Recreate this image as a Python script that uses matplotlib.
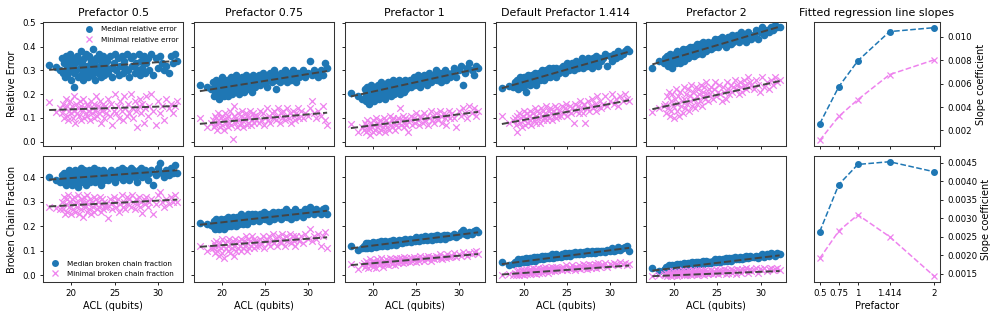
import numpy as np
import matplotlib
matplotlib.use("Agg")
import matplotlib.pyplot as plt
from matplotlib.lines import Line2D

# ---------------- data ----------------
acl = [17.5, 18.3, 18.8,
       19.0, 19.1, 19.2, 19.3, 19.4, 19.5, 19.6, 19.7, 19.8, 19.9,
       20.0, 20.1, 20.2, 20.3, 20.4, 20.5, 20.6, 20.7, 20.8, 20.9,
       21.0, 21.1, 21.2, 21.3, 21.4, 21.5, 21.6, 21.7, 21.8, 21.9,
       22.0, 22.1, 22.2, 22.3, 22.4, 22.5, 22.6, 22.7, 22.8, 22.9,
       23.0, 23.1, 23.2, 23.3, 23.4, 23.5, 23.6, 23.7, 23.8, 23.9, 24.0,
       24.15, 24.3, 24.45, 24.6, 24.75, 24.9, 25.05, 25.2, 25.35, 25.5,
       25.65, 25.8, 25.95, 26.1, 26.25, 26.4, 26.55, 26.7, 26.85, 27.0,
       27.15, 27.3, 27.45, 27.6, 27.75, 27.9, 28.05, 28.2, 28.35, 28.5,
       28.65, 28.8, 28.95,
       29.2, 29.45, 29.7, 29.95, 30.2, 30.45, 30.7, 30.95, 31.2, 31.45, 31.7, 31.95, 32.2]

prefactors = [0.5, 0.75, 1, 1.414, 2]
prefactor_labels = ["0.5", "0.75", "1", "1.414", "2"]
panel_titles = ["Prefactor 0.5", "Prefactor 0.75", "Prefactor 1",
                "Default Prefactor 1.414", "Prefactor 2"]

# Relative error, median / minimal, per prefactor
err_med_05 = [0.322, 0.315, 0.300,
    0.35, 0.29, 0.33, 0.27, 0.36, 0.31, 0.28, 0.34, 0.30, 0.37,
    0.26, 0.32, 0.35, 0.29, 0.23, 0.33, 0.30, 0.36, 0.27, 0.34,
    0.31, 0.38, 0.28, 0.33, 0.26, 0.35, 0.30, 0.37, 0.29, 0.32,
    0.27, 0.36, 0.31, 0.34, 0.28, 0.39, 0.30, 0.33, 0.26, 0.35,
    0.31, 0.29, 0.37, 0.32, 0.27, 0.34, 0.30, 0.36, 0.28, 0.33, 0.31,
    0.34, 0.29, 0.36, 0.31, 0.27, 0.33, 0.37, 0.30, 0.35, 0.28,
    0.32, 0.36, 0.29, 0.34, 0.31, 0.37, 0.30, 0.27, 0.35, 0.32,
    0.36, 0.29, 0.33, 0.30, 0.37, 0.28, 0.34, 0.31, 0.36, 0.29,
    0.33, 0.35, 0.30,
    0.37, 0.28, 0.35, 0.31, 0.36, 0.33, 0.30, 0.32, 0.29, 0.36, 0.33, 0.37, 0.34]
err_min_05 = [0.165, 0.125, 0.14,
    0.12, 0.16, 0.10, 0.14, 0.18, 0.11, 0.15, 0.09, 0.13, 0.17,
    0.12, 0.15, 0.10, 0.19, 0.13, 0.08, 0.16, 0.12, 0.14, 0.11,
    0.17, 0.09, 0.15, 0.13, 0.18, 0.10, 0.14, 0.12, 0.16, 0.11,
    0.15, 0.13, 0.09, 0.17, 0.12, 0.14, 0.10, 0.16, 0.13, 0.19,
    0.11, 0.15, 0.12, 0.17, 0.08, 0.14, 0.13, 0.16, 0.10, 0.15, 0.12,
    0.14, 0.18, 0.11, 0.16, 0.07, 0.13, 0.20, 0.12, 0.15, 0.10,
    0.17, 0.13, 0.09, 0.19, 0.14, 0.11, 0.16, 0.12, 0.20, 0.14,
    0.10, 0.17, 0.13, 0.06, 0.15, 0.18, 0.12, 0.16, 0.08, 0.14,
    0.19, 0.11, 0.15,
    0.20, 0.13, 0.07, 0.17, 0.12, 0.15, 0.09, 0.18, 0.14, 0.16, 0.12, 0.15, 0.17]
err_med_075 = [0.24, 0.23, 0.22,
    0.25, 0.19, 0.23, 0.21, 0.26, 0.20, 0.24, 0.18, 0.22, 0.25,
    0.20, 0.27, 0.22, 0.19, 0.24, 0.21, 0.26, 0.23, 0.19, 0.25,
    0.22, 0.27, 0.20, 0.24, 0.26, 0.21, 0.23, 0.28, 0.22, 0.25,
    0.20, 0.26, 0.24, 0.22, 0.27, 0.23, 0.21, 0.25, 0.28, 0.24,
    0.22, 0.26, 0.23, 0.27, 0.25, 0.21, 0.28, 0.24, 0.26, 0.23, 0.27,
    0.25, 0.28, 0.24, 0.27, 0.29, 0.25, 0.27, 0.23, 0.28, 0.26,
    0.29, 0.25, 0.27, 0.30, 0.22, 0.26, 0.28, 0.25, 0.29, 0.27,
    0.26, 0.30, 0.27, 0.25, 0.28, 0.29, 0.26, 0.30, 0.27, 0.28,
    0.25, 0.29, 0.27,
    0.28, 0.30, 0.27, 0.29, 0.34, 0.28, 0.30, 0.29, 0.27, 0.30, 0.28, 0.33, 0.31]
err_min_075 = [0.10, 0.06, 0.08,
    0.09, 0.06, 0.11, 0.07, 0.10, 0.05, 0.12, 0.08, 0.06, 0.10,
    0.07, 0.11, 0.09, 0.05, 0.12, 0.08, 0.10, 0.06, 0.11, 0.08,
    0.13, 0.07, 0.09, 0.01, 0.11, 0.15, 0.08, 0.10, 0.06, 0.12,
    0.09, 0.07, 0.11, 0.08, 0.13, 0.06, 0.10, 0.09, 0.12, 0.07,
    0.11, 0.08, 0.10, 0.13, 0.07, 0.09, 0.12, 0.08, 0.11, 0.10, 0.09,
    0.11, 0.08, 0.13, 0.09, 0.12, 0.07, 0.10, 0.14, 0.09, 0.11,
    0.08, 0.12, 0.10, 0.13, 0.09, 0.11, 0.14, 0.08, 0.12, 0.10,
    0.13, 0.09, 0.11, 0.14, 0.10, 0.12, 0.08, 0.13, 0.11, 0.09,
    0.12, 0.14, 0.10,
    0.13, 0.10, 0.12, 0.11, 0.14, 0.17, 0.12, 0.10, 0.13, 0.11, 0.15, 0.09, 0.07]
err_med_1 = [0.205, 0.19, 0.18,
    0.18, 0.22, 0.17, 0.20, 0.23, 0.19, 0.16, 0.21, 0.24, 0.18,
    0.22, 0.20, 0.17, 0.23, 0.21, 0.19, 0.24, 0.18, 0.22, 0.20,
    0.25, 0.19, 0.23, 0.21, 0.18, 0.24, 0.22, 0.20, 0.25, 0.21,
    0.23, 0.19, 0.24, 0.22, 0.26, 0.20, 0.23, 0.25, 0.21, 0.24,
    0.22, 0.26, 0.20, 0.24, 0.23, 0.25, 0.21, 0.26, 0.24, 0.22, 0.25,
    0.24, 0.26, 0.23, 0.25, 0.27, 0.24, 0.26, 0.28, 0.25, 0.23,
    0.27, 0.25, 0.28, 0.26, 0.24, 0.27, 0.29, 0.25, 0.27, 0.26,
    0.28, 0.30, 0.26, 0.27, 0.29, 0.25, 0.28, 0.27, 0.30, 0.26,
    0.29, 0.28, 0.27,
    0.29, 0.31, 0.27, 0.30, 0.32, 0.24, 0.29, 0.31, 0.33, 0.30, 0.28, 0.32, 0.31]
err_min_1 = [0.075, 0.04, 0.06,
    0.05, 0.08, 0.04, 0.07, 0.09, 0.05, 0.06, 0.03, 0.08, 0.06,
    0.09, 0.04, 0.07, 0.05, 0.10, 0.06, 0.08, 0.04, 0.07, 0.09,
    0.05, 0.08, 0.06, 0.10, 0.04, 0.07, 0.09, 0.06, 0.08, 0.05,
    0.11, 0.07, 0.09, 0.06, 0.10, 0.08, 0.05, 0.07, 0.09, 0.06,
    0.10, 0.08, 0.14, 0.07, 0.09, 0.11, 0.06, 0.08, 0.10, 0.07, 0.09,
    0.04, 0.09, 0.11, 0.07, 0.10, 0.08, 0.12, 0.09, 0.07, 0.11,
    0.10, 0.08, 0.12, 0.09, 0.11, 0.07, 0.10, 0.13, 0.09, 0.11,
    0.08, 0.12, 0.10, 0.09, 0.13, 0.11, 0.08, 0.12, 0.10, 0.07,
    0.11, 0.13, 0.10,
    0.12, 0.10, 0.06, 0.13, 0.11, 0.14, 0.12, 0.10, 0.15, 0.12, 0.14, 0.11, 0.13]
err_med_1414 = [0.225, 0.235, 0.23,
    0.25, 0.23, 0.26, 0.24, 0.22, 0.25, 0.27, 0.24, 0.26, 0.23,
    0.25, 0.27, 0.24, 0.21, 0.26, 0.28, 0.25, 0.27, 0.24, 0.26,
    0.28, 0.25, 0.27, 0.29, 0.26, 0.24, 0.28, 0.27, 0.29, 0.26,
    0.28, 0.30, 0.27, 0.29, 0.26, 0.28, 0.30, 0.27, 0.29, 0.31,
    0.28, 0.27, 0.30, 0.29, 0.31, 0.28, 0.30, 0.27, 0.31, 0.29, 0.30,
    0.29, 0.31, 0.30, 0.32, 0.29, 0.31, 0.33, 0.30, 0.32, 0.31,
    0.33, 0.30, 0.32, 0.34, 0.31, 0.33, 0.32, 0.35, 0.31, 0.33,
    0.34, 0.32, 0.35, 0.33, 0.34, 0.31, 0.35, 0.33, 0.36, 0.34,
    0.32, 0.35, 0.34,
    0.35, 0.37, 0.32, 0.36, 0.34, 0.37, 0.35, 0.38, 0.36, 0.37, 0.38, 0.39, 0.38]
err_min_1414 = [0.11, 0.08, 0.09,
    0.10, 0.07, 0.11, 0.04, 0.09, 0.12, 0.08, 0.10, 0.06, 0.11,
    0.09, 0.13, 0.07, 0.10, 0.12, 0.08, 0.11, 0.09, 0.13, 0.07,
    0.10, 0.12, 0.09, 0.14, 0.08, 0.11, 0.13, 0.10, 0.12, 0.08,
    0.14, 0.11, 0.09, 0.13, 0.10, 0.12, 0.15, 0.09, 0.11, 0.13,
    0.10, 0.14, 0.12, 0.09, 0.13, 0.11, 0.15, 0.10, 0.12, 0.14, 0.11,
    0.13, 0.11, 0.15, 0.12, 0.14, 0.16, 0.11, 0.13, 0.15, 0.12,
    0.14, 0.08, 0.16, 0.13, 0.15, 0.12, 0.17, 0.14, 0.12, 0.16,
    0.08, 0.14, 0.17, 0.13, 0.15, 0.18, 0.14, 0.16, 0.13, 0.19,
    0.15, 0.17, 0.14,
    0.16, 0.19, 0.15, 0.17, 0.20, 0.16, 0.18, 0.15, 0.19, 0.17, 0.20, 0.18, 0.17]
err_med_2 = [0.31, 0.34, 0.33,
    0.35, 0.33, 0.36, 0.32, 0.34, 0.37, 0.33, 0.35, 0.31, 0.36,
    0.34, 0.37, 0.33, 0.35, 0.38, 0.34, 0.36, 0.33, 0.37, 0.35,
    0.39, 0.36, 0.34, 0.38, 0.36, 0.39, 0.35, 0.37, 0.40, 0.36,
    0.38, 0.37, 0.40, 0.36, 0.39, 0.38, 0.41, 0.37, 0.39, 0.38,
    0.41, 0.39, 0.37, 0.40, 0.42, 0.39, 0.41, 0.38, 0.40, 0.42, 0.40,
    0.41, 0.39, 0.42, 0.40, 0.43, 0.41, 0.40, 0.43, 0.42, 0.44,
    0.41, 0.43, 0.40, 0.42, 0.44, 0.43, 0.41, 0.45, 0.42, 0.44,
    0.43, 0.45, 0.42, 0.44, 0.46, 0.43, 0.45, 0.44, 0.42, 0.46,
    0.44, 0.45, 0.43,
    0.45, 0.47, 0.43, 0.46, 0.48, 0.45, 0.47, 0.46, 0.48, 0.47, 0.49, 0.48, 0.48]
err_min_2 = [0.125, 0.14, 0.15,
    0.16, 0.12, 0.19, 0.14, 0.21, 0.11, 0.17, 0.13, 0.20, 0.15,
    0.10, 0.18, 0.22, 0.13, 0.16, 0.19, 0.11, 0.21, 0.15, 0.17,
    0.12, 0.23, 0.18, 0.14, 0.20, 0.16, 0.22, 0.13, 0.19, 0.17,
    0.24, 0.15, 0.21, 0.18, 0.14, 0.23, 0.19, 0.16, 0.22, 0.20,
    0.17, 0.24, 0.15, 0.21, 0.19, 0.23, 0.18, 0.25, 0.20, 0.17, 0.22,
    0.20, 0.23, 0.18, 0.22, 0.25, 0.19, 0.21, 0.24, 0.20, 0.17,
    0.23, 0.21, 0.18, 0.25, 0.22, 0.20, 0.24, 0.21, 0.23, 0.26,
    0.22, 0.24, 0.20, 0.25, 0.23, 0.21, 0.26, 0.24, 0.22, 0.27,
    0.23, 0.25, 0.24,
    0.22, 0.26, 0.24, 0.21, 0.27, 0.23, 0.25, 0.22, 0.26, 0.24, 0.27, 0.25, 0.26]

# Broken chain fraction, median / minimal, per prefactor
bcf_med_05 = [0.40, 0.39, 0.38,
    0.41, 0.38, 0.42, 0.39, 0.37, 0.41, 0.40, 0.38, 0.43, 0.39,
    0.41, 0.37, 0.42, 0.40, 0.38, 0.43, 0.39, 0.41, 0.36, 0.42,
    0.40, 0.44, 0.38, 0.41, 0.39, 0.43, 0.40, 0.37, 0.42, 0.39,
    0.41, 0.43, 0.38, 0.40, 0.42, 0.39, 0.44, 0.41, 0.38, 0.42,
    0.40, 0.43, 0.39, 0.41, 0.37, 0.42, 0.40, 0.43, 0.39, 0.41, 0.40,
    0.42, 0.39, 0.41, 0.43, 0.40, 0.42, 0.38, 0.41, 0.43, 0.40,
    0.42, 0.44, 0.39, 0.41, 0.43, 0.40, 0.42, 0.39, 0.44, 0.41,
    0.43, 0.40, 0.42, 0.38, 0.43, 0.41, 0.44, 0.40, 0.42, 0.43,
    0.41, 0.39, 0.42,
    0.43, 0.37, 0.41, 0.44, 0.46, 0.42, 0.40, 0.43, 0.41, 0.44, 0.42, 0.45, 0.42]
bcf_min_05 = [0.28, 0.275, 0.27,
    0.30, 0.27, 0.32, 0.25, 0.29, 0.31, 0.26, 0.33, 0.28, 0.30,
    0.25, 0.31, 0.27, 0.29, 0.32, 0.26, 0.30, 0.28, 0.33, 0.25,
    0.29, 0.31, 0.27, 0.30, 0.24, 0.32, 0.28, 0.30, 0.26, 0.33,
    0.29, 0.27, 0.31, 0.25, 0.30, 0.28, 0.32, 0.26, 0.29, 0.31,
    0.27, 0.30, 0.28, 0.32, 0.26, 0.29, 0.31, 0.27, 0.30, 0.28, 0.29,
    0.28, 0.235, 0.31, 0.29, 0.27, 0.32, 0.30, 0.28, 0.31, 0.26,
    0.29, 0.33, 0.28, 0.30, 0.27, 0.32, 0.29, 0.31, 0.28, 0.33,
    0.30, 0.27, 0.31, 0.29, 0.32, 0.28, 0.30, 0.255, 0.31, 0.29,
    0.32, 0.28, 0.30,
    0.31, 0.25, 0.29, 0.33, 0.34, 0.30, 0.28, 0.31, 0.29, 0.32, 0.30, 0.33, 0.30]
bcf_med_075 = [0.215, 0.21, 0.205,
    0.20, 0.22, 0.19, 0.21, 0.23, 0.20, 0.22, 0.19, 0.21, 0.23,
    0.20, 0.22, 0.21, 0.19, 0.23, 0.21, 0.22, 0.20, 0.24, 0.21,
    0.23, 0.20, 0.22, 0.24, 0.21, 0.23, 0.22, 0.20, 0.24, 0.22,
    0.21, 0.23, 0.25, 0.22, 0.24, 0.21, 0.23, 0.22, 0.24, 0.23,
    0.21, 0.25, 0.22, 0.24, 0.23, 0.25, 0.22, 0.24, 0.23, 0.25, 0.23,
    0.24, 0.22, 0.25, 0.23, 0.24, 0.26, 0.23, 0.25, 0.24, 0.22,
    0.25, 0.24, 0.26, 0.23, 0.25, 0.24, 0.26, 0.25, 0.23, 0.26,
    0.24, 0.25, 0.27, 0.24, 0.26, 0.25, 0.23, 0.26, 0.25, 0.27,
    0.24, 0.26, 0.25,
    0.26, 0.24, 0.27, 0.25, 0.28, 0.26, 0.25, 0.27, 0.26, 0.25, 0.27, 0.275, 0.25]
bcf_min_075 = [0.12, 0.10, 0.11,
    0.11, 0.13, 0.09, 0.12, 0.14, 0.10, 0.12, 0.08, 0.13, 0.11,
    0.15, 0.09, 0.12, 0.07, 0.13, 0.11, 0.14, 0.10, 0.12, 0.15,
    0.09, 0.13, 0.11, 0.14, 0.08, 0.12, 0.15, 0.10, 0.13, 0.11,
    0.14, 0.12, 0.10, 0.15, 0.13, 0.11, 0.14, 0.12, 0.16, 0.10,
    0.13, 0.15, 0.11, 0.14, 0.12, 0.16, 0.13, 0.11, 0.15, 0.14, 0.12,
    0.14, 0.12, 0.15, 0.13, 0.16, 0.11, 0.14, 0.15, 0.13, 0.16,
    0.12, 0.14, 0.17, 0.13, 0.15, 0.12, 0.16, 0.14, 0.13, 0.17,
    0.15, 0.12, 0.16, 0.14, 0.15, 0.17, 0.13, 0.16, 0.14, 0.12,
    0.16, 0.15, 0.14,
    0.16, 0.13, 0.17, 0.15, 0.19, 0.14, 0.16, 0.15, 0.17, 0.12, 0.16, 0.175, 0.11]
bcf_med_1 = [0.12, 0.105, 0.11,
    0.12, 0.11, 0.13, 0.12, 0.11, 0.13, 0.12, 0.125, 0.11, 0.13,
    0.12, 0.135, 0.12, 0.13, 0.115, 0.125, 0.135, 0.12, 0.13, 0.125,
    0.14, 0.12, 0.13, 0.135, 0.125, 0.14, 0.13, 0.12, 0.135, 0.13,
    0.14, 0.125, 0.135, 0.13, 0.145, 0.13, 0.14, 0.125, 0.135, 0.14,
    0.13, 0.145, 0.135, 0.14, 0.13, 0.145, 0.135, 0.14, 0.15, 0.135, 0.14,
    0.14, 0.15, 0.135, 0.145, 0.15, 0.14, 0.155, 0.145, 0.14, 0.15,
    0.155, 0.145, 0.15, 0.16, 0.145, 0.155, 0.15, 0.16, 0.145, 0.155,
    0.16, 0.15, 0.165, 0.155, 0.15, 0.16, 0.155, 0.165, 0.15, 0.16,
    0.165, 0.155, 0.16,
    0.16, 0.17, 0.155, 0.165, 0.175, 0.185, 0.17, 0.165, 0.175, 0.17, 0.18, 0.185, 0.175]
bcf_min_1 = [0.045, 0.025, 0.04,
    0.05, 0.035, 0.06, 0.04, 0.055, 0.03, 0.05, 0.065, 0.04, 0.055,
    0.035, 0.06, 0.045, 0.055, 0.03, 0.065, 0.05, 0.04, 0.06, 0.045,
    0.07, 0.05, 0.035, 0.06, 0.055, 0.045, 0.065, 0.05, 0.04, 0.06,
    0.07, 0.055, 0.045, 0.065, 0.05, 0.06, 0.04, 0.07, 0.055, 0.065,
    0.05, 0.06, 0.07, 0.055, 0.065, 0.05, 0.075, 0.06, 0.055, 0.07, 0.06,
    0.065, 0.055, 0.07, 0.06, 0.075, 0.065, 0.055, 0.07, 0.06, 0.08,
    0.065, 0.07, 0.06, 0.075, 0.065, 0.08, 0.07, 0.06, 0.075, 0.07,
    0.065, 0.08, 0.07, 0.075, 0.085, 0.07, 0.065, 0.08, 0.075, 0.07,
    0.085, 0.075, 0.08,
    0.08, 0.09, 0.075, 0.085, 0.08, 0.095, 0.085, 0.08, 0.09, 0.085, 0.095, 0.10, 0.085]
bcf_med_1414 = [0.055, 0.04, 0.045,
    0.055, 0.05, 0.06, 0.055, 0.065, 0.05, 0.06, 0.055, 0.065, 0.06,
    0.055, 0.065, 0.06, 0.07, 0.055, 0.065, 0.06, 0.07, 0.065, 0.06,
    0.07, 0.065, 0.075, 0.06, 0.07, 0.065, 0.075, 0.07, 0.065, 0.075,
    0.07, 0.08, 0.065, 0.075, 0.07, 0.08, 0.07, 0.075, 0.08, 0.07,
    0.075, 0.08, 0.075, 0.085, 0.07, 0.08, 0.075, 0.085, 0.08, 0.075, 0.08,
    0.08, 0.075, 0.085, 0.08, 0.09, 0.08, 0.085, 0.09, 0.08, 0.085,
    0.09, 0.085, 0.095, 0.085, 0.09, 0.085, 0.095, 0.09, 0.085, 0.095,
    0.09, 0.10, 0.09, 0.095, 0.09, 0.10, 0.095, 0.09, 0.10, 0.095,
    0.10, 0.095, 0.10,
    0.10, 0.095, 0.105, 0.10, 0.11, 0.10, 0.105, 0.115, 0.105, 0.11, 0.115, 0.12, 0.10]
bcf_min_1414 = [0.0, 0.005, 0.0,
    0.01, 0.0, 0.015, 0.005, 0.02, 0.0, 0.01, 0.02, 0.005, 0.015,
    0.0, 0.02, 0.01, 0.025, 0.005, 0.015, 0.02, 0.005, 0.025, 0.01,
    0.015, 0.03, 0.01, 0.02, 0.005, 0.025, 0.015, 0.03, 0.01, 0.02,
    0.025, 0.01, 0.03, 0.015, 0.02, 0.035, 0.015, 0.025, 0.01, 0.03,
    0.02, 0.025, 0.015, 0.035, 0.02, 0.03, 0.015, 0.025, 0.035, 0.02, 0.03,
    0.025, 0.03, 0.02, 0.035, 0.025, 0.04, 0.02, 0.03, 0.035, 0.025,
    0.04, 0.03, 0.02, 0.035, 0.03, 0.04, 0.025, 0.035, 0.045, 0.03,
    0.04, 0.025, 0.035, 0.045, 0.03, 0.04, 0.035, 0.045, 0.03, 0.04,
    0.05, 0.035, 0.04,
    0.04, 0.05, 0.035, 0.045, 0.04, 0.05, 0.045, 0.04, 0.055, 0.045, 0.05, 0.04, 0.045]
bcf_med_2 = [0.028, 0.018, 0.02,
    0.025, 0.035, 0.03, 0.025, 0.04, 0.03, 0.035, 0.03, 0.04, 0.035,
    0.03, 0.04, 0.035, 0.045, 0.035, 0.04, 0.03, 0.045, 0.04, 0.035,
    0.045, 0.04, 0.05, 0.04, 0.045, 0.035, 0.05, 0.045, 0.04, 0.05,
    0.045, 0.055, 0.04, 0.05, 0.045, 0.055, 0.045, 0.05, 0.055, 0.045,
    0.05, 0.055, 0.05, 0.06, 0.045, 0.055, 0.05, 0.06, 0.055, 0.05, 0.055,
    0.055, 0.05, 0.06, 0.055, 0.065, 0.055, 0.06, 0.065, 0.055, 0.06,
    0.065, 0.06, 0.07, 0.06, 0.065, 0.07, 0.06, 0.07, 0.065, 0.075,
    0.065, 0.07, 0.065, 0.075, 0.07, 0.065, 0.075, 0.07, 0.08, 0.07,
    0.075, 0.08, 0.075,
    0.075, 0.08, 0.07, 0.08, 0.085, 0.075, 0.085, 0.08, 0.09, 0.085, 0.08, 0.09, 0.085]
bcf_min_2 = [-0.005, 0.0, 0.005,
    0.0, 0.01, -0.005, 0.005, 0.015, 0.0, 0.01, -0.005, 0.005, 0.015,
    0.0, 0.01, 0.005, 0.015, -0.005, 0.01, 0.0, 0.015, 0.005, 0.01,
    0.02, 0.0, 0.01, 0.005, 0.015, 0.0, 0.02, 0.01, 0.005, 0.015,
    0.0, 0.01, 0.02, 0.005, 0.015, 0.01, 0.0, 0.02, 0.01, 0.005,
    0.015, 0.02, 0.005, 0.01, 0.015, 0.0, 0.02, 0.01, 0.015, 0.005, 0.01,
    0.01, 0.02, 0.005, 0.015, 0.01, 0.025, 0.005, 0.015, 0.02, 0.01,
    0.015, 0.025, 0.005, 0.02, 0.01, 0.015, 0.025, 0.01, 0.02, 0.015,
    0.005, 0.025, 0.015, 0.02, 0.01, 0.025, 0.015, 0.02, 0.03, 0.01,
    0.02, 0.025, 0.015,
    0.02, 0.03, 0.01, 0.025, 0.02, 0.03, 0.015, 0.025, 0.03, 0.02, 0.025, 0.03, 0.02]

# Fitted regression lines (slope from right panels, intercept)
err_slope_med = [0.00257, 0.00574, 0.00796, 0.01045, 0.01079]
err_slope_min = [0.00115, 0.0032, 0.00464, 0.00677, 0.00804]
err_icpt_med = [0.257, 0.112, 0.051, 0.042, 0.136]
err_icpt_min = [0.113, 0.019, -0.024, -0.044, -0.004]
bcf_slope_med = [0.002635, 0.00391, 0.004454, 0.004527, 0.004255]
bcf_slope_min = [0.00191, 0.002654, 0.00309, 0.0025, 0.001427]
bcf_icpt_med = [0.345, 0.138, 0.032, -0.034, -0.056]
bcf_icpt_min = [0.248, 0.0696, -0.013, -0.041, -0.029]

err_med_sets = [err_med_05, err_med_075, err_med_1, err_med_1414, err_med_2]
err_min_sets = [err_min_05, err_min_075, err_min_1, err_min_1414, err_min_2]
bcf_med_sets = [bcf_med_05, bcf_med_075, bcf_med_1, bcf_med_1414, bcf_med_2]
bcf_min_sets = [bcf_min_05, bcf_min_075, bcf_min_1, bcf_min_1414, bcf_min_2]

# ---------------- style ----------------
BLUE = "#1f77b4"
PINK = "violet"
LINE = "#444444"
TITLE_FS = 7.9
LABEL_FS = 7.0
TICK_FS = 6.2
LEG_FS = 5.2

plt.rcParams["font.family"] = ["DejaVu Sans"]
plt.rcParams["axes.linewidth"] = 0.75
plt.rcParams["axes.edgecolor"] = "#333333"
plt.rcParams["xtick.major.width"] = 0.6
plt.rcParams["ytick.major.width"] = 0.6
plt.rcParams["xtick.major.size"] = 2.5
plt.rcParams["ytick.major.size"] = 2.5
plt.rcParams["xtick.major.pad"] = 2.5
plt.rcParams["ytick.major.pad"] = 2.5

W, H = 996, 319
fig = plt.figure(figsize=(W / 100, H / 100), dpi=100)


def rect(left, top, right, bottom):
    return [left / W, 1 - bottom / H, (right - left) / W, (bottom - top) / H]


lefts = [43, 193.5, 344.5, 495.5, 646]
pw = 140
rows = [(22, 146), (156, 282)]

acl_arr = np.array(acl)
x_line = np.array([acl_arr.min(), acl_arr.max()])

top_axes, bot_axes = [], []
for i in range(5):
    ax_t = fig.add_axes(rect(lefts[i], rows[0][0], lefts[i] + pw, rows[0][1]),
                        sharey=top_axes[0] if i else None)
    ax_b = fig.add_axes(rect(lefts[i], rows[1][0], lefts[i] + pw, rows[1][1]),
                        sharex=ax_t, sharey=bot_axes[0] if i else None)
    top_axes.append(ax_t)
    bot_axes.append(ax_b)

    for ax, med, mn, sm, si, nm, ni in [
        (ax_t, err_med_sets[i], err_min_sets[i], err_slope_med[i], err_icpt_med[i],
         err_slope_min[i], err_icpt_min[i]),
        (ax_b, bcf_med_sets[i], bcf_min_sets[i], bcf_slope_med[i], bcf_icpt_med[i],
         bcf_slope_min[i], bcf_icpt_min[i])]:
        ax.scatter(acl_arr, med, s=30, c=BLUE, marker="o", linewidths=0, zorder=2)
        ax.scatter(acl_arr, mn, s=22, c=PINK, marker="x", linewidths=0.9, zorder=2)
        ax.plot(x_line, si + sm * x_line, ls="--", color=LINE, lw=1.4, zorder=3)
        ax.plot(x_line, ni + nm * x_line, ls="--", color=LINE, lw=1.4, zorder=3)
        ax.tick_params(labelsize=TICK_FS)

    ax_t.set_title(panel_titles[i], fontsize=TITLE_FS, pad=4)
    ax_t.tick_params(labelbottom=False)
    ax_b.set_xlabel("ACL (qubits)", fontsize=LABEL_FS, labelpad=2)
    if i:
        ax_t.tick_params(labelleft=False)
        ax_b.tick_params(labelleft=False)

top_axes[0].set_xlim(16.8, 32.85)
top_axes[0].set_ylim(-0.018, 0.503)
top_axes[0].set_yticks([0.0, 0.1, 0.2, 0.3, 0.4, 0.5])
bot_axes[0].set_ylim(-0.028, 0.488)
bot_axes[0].set_yticks([0.0, 0.1, 0.2, 0.3, 0.4])
bot_axes[0].set_xticks([20, 25, 30])
top_axes[0].set_ylabel("Relative Error", fontsize=LABEL_FS, labelpad=4)
bot_axes[0].set_ylabel("Broken Chain Fraction", fontsize=LABEL_FS, labelpad=4)

# legends
h_med = Line2D([], [], ls="", marker="o", color=BLUE, markersize=5, markeredgewidth=0)
h_min = Line2D([], [], ls="", marker="x", color=PINK, markersize=4.5, markeredgewidth=0.9)
top_axes[0].legend([h_med, h_min], ["Median relative error", "Minimal relative error"],
                   loc="upper right", fontsize=LEG_FS, frameon=False,
                   handletextpad=0.6, borderaxespad=0.2, labelspacing=0.6)
bot_axes[0].legend([h_med, h_min], ["Median broken chain fraction", "Minimal broken chain fraction"],
                   loc="lower left", fontsize=LEG_FS, frameon=False,
                   handletextpad=0.6, borderaxespad=0.3, labelspacing=0.6)

# slope panels
s_top = fig.add_axes(rect(814, rows[0][0], 940, rows[0][1]))
s_bot = fig.add_axes(rect(814, rows[1][0], 940, rows[1][1]), sharex=s_top)
s_top.plot(prefactors, err_slope_med, ls="--", marker="o", color=BLUE, lw=1.1, ms=4)
s_top.plot(prefactors, err_slope_min, ls="--", marker="x", color=PINK, lw=1.1, ms=4.5, mew=0.9)
s_bot.plot(prefactors, bcf_slope_med, ls="--", marker="o", color=BLUE, lw=1.1, ms=4)
s_bot.plot(prefactors, bcf_slope_min, ls="--", marker="x", color=PINK, lw=1.1, ms=4.5, mew=0.9)
s_top.set_title("Fitted regression line slopes", fontsize=TITLE_FS, pad=4)
for ax in (s_top, s_bot):
    ax.yaxis.tick_right()
    ax.yaxis.set_label_position("right")
    ax.set_ylabel("Slope coefficient", fontsize=LABEL_FS, labelpad=3)
    ax.tick_params(labelsize=TICK_FS)
s_top.set_yticks([0.002, 0.004, 0.006, 0.008, 0.010])
s_bot.set_yticks([0.0015, 0.0020, 0.0025, 0.0030, 0.0035, 0.0040, 0.0045])
s_bot.set_xticks(prefactors, prefactor_labels)
s_top.tick_params(labelbottom=False)
s_bot.set_xlabel("Prefactor", fontsize=LABEL_FS, labelpad=2)

fig.savefig("out.png", dpi=100)
